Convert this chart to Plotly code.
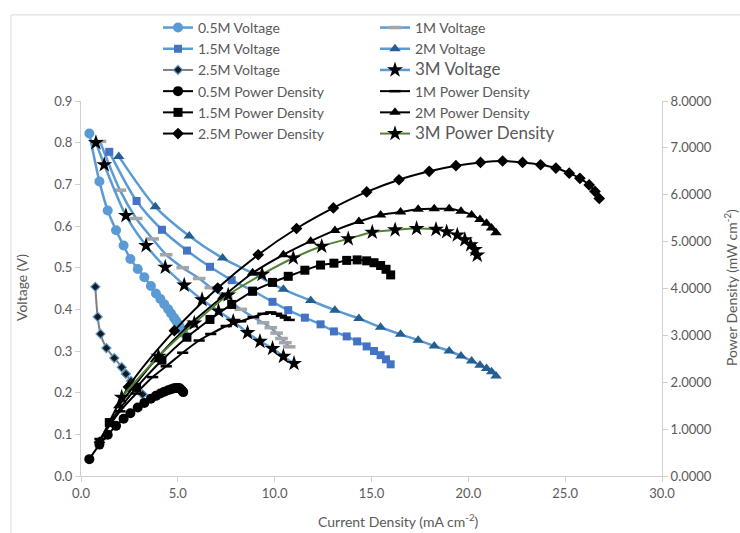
import plotly.graph_objects as go

# ---------------- data ----------------
x_05 = [0.43, 0.95, 1.38, 1.81, 2.20, 2.55, 2.93, 3.27, 3.61, 3.87, 4.10, 4.30, 4.50, 4.65, 4.80, 4.92, 5.02, 5.10, 5.20, 5.28]
v_05 = [0.822, 0.707, 0.637, 0.590, 0.553, 0.521, 0.497, 0.477, 0.456, 0.438, 0.425, 0.412, 0.400, 0.390, 0.380, 0.372, 0.365, 0.358, 0.350, 0.343]
p_05 = [0.36, 0.67, 0.88, 1.07, 1.22, 1.34, 1.46, 1.56, 1.65, 1.71, 1.76, 1.80, 1.83, 1.85, 1.87, 1.88, 1.88, 1.87, 1.83, 1.79]

x_1 = [0.98, 2.01, 2.85, 3.70, 4.40, 5.25, 6.10, 6.70, 7.50, 8.25, 8.90, 9.40, 9.80, 10.10, 10.35, 10.55, 10.75]
v_1 = [0.803, 0.686, 0.618, 0.569, 0.531, 0.500, 0.474, 0.452, 0.427, 0.400, 0.381, 0.368, 0.356, 0.343, 0.330, 0.320, 0.310]
p_1 = [0.79, 1.38, 1.76, 2.11, 2.34, 2.63, 2.89, 3.03, 3.20, 3.30, 3.39, 3.46, 3.49, 3.46, 3.42, 3.38, 3.33]

x_15 = [1.46, 2.87, 4.18, 5.47, 6.66, 7.78, 8.86, 9.89, 10.70, 11.56, 12.37, 13.06, 13.72, 14.26, 14.75, 15.13, 15.47, 15.75, 15.99]
v_15 = [0.778, 0.660, 0.591, 0.541, 0.502, 0.470, 0.445, 0.418, 0.398, 0.380, 0.364, 0.347, 0.335, 0.323, 0.311, 0.300, 0.290, 0.280, 0.268]
p_15 = [1.14, 1.89, 2.47, 2.96, 3.34, 3.66, 3.94, 4.13, 4.26, 4.39, 4.50, 4.54, 4.60, 4.61, 4.59, 4.55, 4.49, 4.41, 4.29]

x_2 = [1.95, 3.84, 5.59, 7.31, 8.86, 10.45, 11.86, 13.11, 14.35, 15.47, 16.50, 17.41, 18.24, 19.01, 19.62, 20.17, 20.60, 20.94, 21.20, 21.43]
v_2 = [0.767, 0.646, 0.576, 0.523, 0.487, 0.448, 0.421, 0.398, 0.378, 0.357, 0.340, 0.326, 0.312, 0.300, 0.288, 0.276, 0.266, 0.258, 0.250, 0.240]
p_2 = [1.50, 2.48, 3.22, 3.82, 4.33, 4.72, 5.01, 5.24, 5.43, 5.57, 5.63, 5.69, 5.70, 5.70, 5.65, 5.57, 5.47, 5.39, 5.29, 5.19]

x_25v = [0.74, 0.86, 1.01, 1.31, 1.72, 2.10, 2.32, 2.58, 2.87, 3.18]
v_25 = [0.454, 0.382, 0.341, 0.307, 0.283, 0.261, 0.245, 0.228, 0.212, 0.196]
x_25p = [0.95, 2.45, 4.82, 7.06, 9.15, 11.13, 13.03, 14.75, 16.42, 17.98, 19.36, 20.63, 21.77, 22.80, 23.73, 24.52, 25.21, 25.76, 26.24, 26.54, 26.76]
p_25 = [0.72, 1.90, 3.10, 4.01, 4.72, 5.28, 5.72, 6.06, 6.32, 6.50, 6.62, 6.69, 6.72, 6.69, 6.64, 6.57, 6.46, 6.35, 6.21, 6.07, 5.92]

x_3v = [0.77, 1.20, 2.32, 3.36, 4.35, 5.33, 6.25, 7.10, 7.86, 8.60, 9.24, 9.89, 10.45, 11.00]
v_3 = [0.800, 0.747, 0.625, 0.553, 0.501, 0.458, 0.423, 0.396, 0.371, 0.344, 0.323, 0.306, 0.287, 0.270]
x_3p = [2.10, 4.00, 5.85, 7.60, 9.35, 10.96, 12.43, 13.80, 15.04, 16.22, 17.33, 18.33, 18.88, 19.43, 19.82, 20.12, 20.34, 20.46]
p_3 = [1.68, 2.55, 3.26, 3.86, 4.30, 4.65, 4.90, 5.06, 5.20, 5.25, 5.28, 5.26, 5.21, 5.14, 5.04, 4.93, 4.83, 4.71]

x_ticks = [0, 5, 10, 15, 20, 25, 30]
v_ticks = [0, 0.1, 0.2, 0.3, 0.4, 0.5, 0.6, 0.7, 0.8, 0.9]
p_ticks = [0, 1, 2, 3, 4, 5, 6, 7, 8]

# ---------------- figure ----------------
BLUE = '#5B9BD5'
GRAY_TXT = '#595959'
AXIS = '#D0D0D0'
fig = go.Figure()


def add(x, y, name, yaxis, lcolor, lw, symbol, msize, mcolor, mlc=None, mlw=0, legend='legend'):
    fig.add_trace(go.Scatter(
        x=x, y=y, name=name, yaxis=yaxis, mode='lines+markers', legend=legend,
        line=dict(color=lcolor, width=lw, shape='spline', smoothing=0.8),
        marker=dict(symbol=symbol, size=msize, color=mcolor,
                    line=dict(color=mlc if mlc else mcolor, width=mlw)),
    ))


def big(s):
    return '<span style="font-size:17px">' + s + '</span>'


# voltage series
add(x_05, v_05, '0.5M Voltage', 'y', BLUE, 2.5, 'circle', 10, BLUE)
add(x_1, v_1, '1M Voltage', 'y', BLUE, 2.5, 'line-ew', 9, '#A5A5A5', '#A5A5A5', 3.5, legend='legend2')
add(x_15, v_15, '1.5M Voltage', 'y', BLUE, 2.5, 'square', 8, '#4472C4')
add(x_2, v_2, '2M Voltage', 'y', BLUE, 2.5, 'triangle-up', 10, '#255E91', legend='legend2')
add(x_25v, v_25, '2.5M Voltage', 'y', '#7F7F7F', 2, 'diamond', 7, '#1a1a1a', BLUE, 1.2)
add(x_3v, v_3, big('3M Voltage'), 'y', BLUE, 2.5, 'star', 12, '#000000', legend='legend2')
# power density series
add(x_05, p_05, '0.5M Power Density', 'y2', '#000000', 2, 'circle', 10, '#000000')
add(x_1, p_1, '1M Power Density', 'y2', '#000000', 2, 'line-ew', 8, '#000000', '#000000', 2.5, legend='legend2')
add(x_15, p_15, '1.5M Power Density', 'y2', '#000000', 2, 'square', 9, '#000000')
add(x_2, p_2, '2M Power Density', 'y2', '#000000', 2, 'triangle-up', 10, '#000000', legend='legend2')
add(x_25p, p_25, '2.5M Power Density', 'y2', '#000000', 2, 'diamond', 9, '#000000')
add(x_3p, p_3, big('3M Power Density'), 'y2', '#548235', 2, 'star', 12, '#000000', legend='legend2')

axis_common = dict(showgrid=False, zeroline=False, showline=True, linecolor=AXIS, linewidth=1,
                   ticks='outside', ticklen=5, tickcolor=AXIS,
                   tickfont=dict(size=13, color=GRAY_TXT))

W, H = 740, 533
L, R, T, B = 81, 78, 97, 57
pw, ph = W - L - R, H - T - B


def px_x(p):
    return (p - L) / pw


def px_y(p):
    return (H - B - p) / ph


leg_common = dict(orientation='v', bgcolor='rgba(255,255,255,0)', font=dict(size=14, color=GRAY_TXT,
                  family='Lato'), xanchor='left', yanchor='top', itemwidth=30, tracegroupgap=0)

fig.update_layout(
    width=W, height=H,
    margin=dict(l=L, r=R, t=T, b=B),
    paper_bgcolor='white', plot_bgcolor='white',
    font=dict(family='Lato', color=GRAY_TXT),
    xaxis=dict(range=[0, 30], tickvals=x_ticks, tickformat='.1f', **axis_common),
    yaxis=dict(range=[0, 0.9], tickvals=v_ticks, tickformat='.1f', **axis_common),
    yaxis2=dict(range=[0, 8], tickvals=p_ticks, tickformat='.4f', overlaying='y', side='right',
                **axis_common),
    legend=dict(x=px_x(158), y=px_y(7), **leg_common),
    legend2=dict(x=px_x(375), y=px_y(7), **leg_common),
    showlegend=True,
    annotations=[
        dict(text='Current Density (mA cm<sup>-2</sup>)', xref='paper', yref='paper',
             x=px_x(398), y=px_y(521), xanchor='center', yanchor='middle',
             showarrow=False, font=dict(size=14, color=GRAY_TXT)),
        dict(text='Voltage (V)', xref='paper', yref='paper', textangle=-90,
             x=px_x(21), y=px_y(286), xanchor='center', yanchor='middle',
             showarrow=False, font=dict(size=14, color=GRAY_TXT)),
        dict(text='Power Density (mW cm<sup>-2</sup>)', xref='paper', yref='paper', textangle=-90,
             x=px_x(730), y=px_y(286), xanchor='center', yanchor='middle',
             showarrow=False, font=dict(size=14, color=GRAY_TXT)),
    ],
    shapes=[
        dict(type='line', xref='paper', yref='paper', x0=px_x(11), y0=px_y(10),
             x1=px_x(745), y1=px_y(10), line=dict(color='#D9D9D9', width=1), layer='below'),
        dict(type='line', xref='paper', yref='paper', x0=px_x(11), y0=px_y(10),
             x1=px_x(11), y1=px_y(540), line=dict(color='#D9D9D9', width=1), layer='below'),
    ],
)

fig.write_html('out.html')
